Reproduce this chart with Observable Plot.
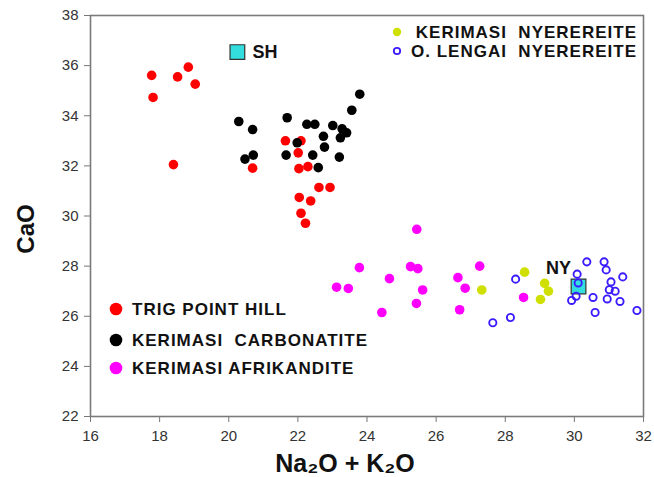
<!DOCTYPE html>
<html>
<head>
<meta charset="utf-8">
<script src="https://cdn.jsdelivr.net/npm/d3@7"></script>
<script src="https://cdn.jsdelivr.net/npm/@observablehq/plot@0.6"></script>
<style>
  body { margin: 0; background: #fff; }
  #chart svg { display: block; }
</style>
</head>
<body>
<div id="chart"></div>
<script>
// ---- Data ----
const trigX = [17.77,17.81,18.52,18.83,19.03,18.40,21.64,22.09,22.01,22.03,22.29,20.69,22.61,22.93,22.04,22.37,22.09,22.22];
const trigY = [35.61,34.73,35.55,35.94,35.26,32.05,33.00,33.00,32.52,31.89,31.97,31.91,31.14,31.14,30.74,30.60,30.11,29.71];

const carbX = [20.29,20.69,23.79,23.56,21.69,22.26,22.49,23.01,23.28,23.41,23.23,22.74,21.98,22.77,21.66,22.43,23.20,22.59,20.47,20.71];
const carbY = [33.77,33.45,34.86,34.22,33.92,33.66,33.66,33.61,33.48,33.32,33.12,33.18,32.92,32.75,32.43,32.43,32.35,31.93,32.27,32.43];

const afriX = [25.44,23.78,25.26,25.47,27.26,24.65,26.63,23.12,23.46,25.61,26.84,25.43,24.43,26.68,28.53];
const afriY = [29.47,27.94,27.98,27.90,28.00,27.50,27.54,27.16,27.11,27.05,27.12,26.51,26.15,26.26,26.75];

const kerNyX = [27.32,28.56,29.14,29.25,29.02];
const kerNyY = [27.05,27.76,27.31,27.00,26.67];

const lenX = [28.30,28.15,27.64,30.36,30.86,30.92,30.08,30.11,31.40,31.06,31.01,31.18,30.05,29.92,30.54,30.95,31.32,30.60,31.81];
const lenY = [27.48,25.95,25.74,28.17,28.17,27.85,27.68,27.33,27.57,27.37,27.06,27.00,26.80,26.63,26.75,26.69,26.59,26.15,26.23];

const refNames = ["SH", "NY"];
const refX = [20.25, 30.12];
const refY = [36.54, 27.19];

const xTicks = [16,18,20,22,24,26,28,30,32];
const yTicks = [22,24,26,28,30,32,34,36,38];

const xTitle = "Na\u2082O + K\u2082O";
const yTitle = "CaO";
const legendBottom = ["TRIG POINT HILL", "KERIMASI\u00a0 CARBONATITE", "KERIMASI AFRIKANDITE"];
const legendTop = ["KERIMASI\u00a0 NYEREREITE", "O. LENGAI\u00a0 NYEREREITE"];

// ---- Build tables ----
const zip = (xs, ys) => xs.map((x, i) => ({x, y: ys[i]}));
const trig = zip(trigX, trigY);
const carb = zip(carbX, carbY);
const afri = zip(afriX, afriY);
const kerNy = zip(kerNyX, kerNyY);
const len = zip(lenX, lenY);
const refs = refNames.map((n, i) => ({name: n, x: refX[i], y: refY[i]}));

const RED = "#ff0000", BLACK = "#000000", MAG = "#ff00ff", YEL = "#cfe000", BLUE = "#3a1cff", CYAN = "#33dddd";
const FONT = "Liberation Sans, Arial, Helvetica, sans-serif";

const plot = Plot.plot({
  width: 654,
  height: 477,
  marginLeft: 90,
  marginRight: 11,
  marginTop: 15,
  marginBottom: 61,
  style: {fontFamily: FONT, background: "#fff", color: "#333"},
  x: {domain: [16, 32]},
  y: {domain: [22, 38]},
  marks: [
    Plot.axisX({ticks: xTicks, tickSize: 6, tickPadding: 8, fontSize: 15, label: null, stroke: "#777"}),
    Plot.axisY({ticks: yTicks, tickSize: 6, tickPadding: 6, fontSize: 15, label: null, stroke: "#777"}),
    Plot.frame({stroke: "#7a7a7a", strokeWidth: 1.6}),
    Plot.dot(trig, {x: "x", y: "y", r: 4.8, fill: RED}),
    Plot.dot(carb, {x: "x", y: "y", r: 4.8, fill: BLACK}),
    Plot.dot(afri, {x: "x", y: "y", r: 4.8, fill: MAG}),
    Plot.dot(kerNy, {x: "x", y: "y", r: 4.8, fill: YEL}),
    Plot.dot(refs, {x: "x", y: "y", symbol: "square", r: 8.3, fill: CYAN, stroke: "#333", strokeWidth: 1.2}),
    Plot.dot(len, {x: "x", y: "y", r: 3.6, stroke: BLUE, strokeWidth: 1.9, fill: "none"}),
    Plot.text(refs.filter(d => d.name === "SH"), {x: "x", y: "y", text: "name", dx: 15, textAnchor: "start", fontSize: 18, fontWeight: "bold", fill: "#111"}),
    Plot.text(refs.filter(d => d.name === "NY"), {x: "x", y: "y", text: "name", dx: -20, dy: -18, fontSize: 18, fontWeight: "bold", fill: "#111"})
  ]
});

const svg = d3.select(plot);

// ---- Axis titles ----
const gTitles = svg.append("g").attr("font-family", FONT).attr("font-weight", "bold").attr("fill", "#111").attr("text-anchor", "middle");
gTitles.append("text").attr("x", 345).attr("y", 463).attr("dy", "0.35em").attr("font-size", 25).text(xTitle);
gTitles.append("text").attr("transform", "translate(26,229) rotate(-90)").attr("dy", "0.35em").attr("font-size", 24).text(yTitle);

// ---- Legends ----
const gb = svg.append("g").attr("font-family", FONT).attr("font-weight", "bold").attr("font-size", 17).attr("letter-spacing", 1).attr("fill", "#111").attr("text-anchor", "start");
const botColors = [RED, BLACK, MAG];
const botY = [309, 340, 368];
legendBottom.forEach((lab, i) => {
  gb.append("circle").attr("cx", 116).attr("cy", botY[i]).attr("r", 6.3).attr("fill", botColors[i]);
  gb.append("text").attr("x", 132).attr("y", botY[i]).attr("dy", "0.35em").attr("text-anchor", "start").text(lab);
});
const gt = svg.append("g").attr("font-family", FONT).attr("font-weight", "bold").attr("font-size", 17).attr("letter-spacing", 1).attr("fill", "#111");
const topY = [32, 51];
gt.append("circle").attr("cx", 397).attr("cy", topY[0]).attr("r", 4.2).attr("fill", YEL);
gt.append("circle").attr("cx", 397).attr("cy", topY[1]).attr("r", 3.2).attr("fill", "none").attr("stroke", BLUE).attr("stroke-width", 1.8);
legendTop.forEach((lab, i) => {
  gt.append("text").attr("x", 637).attr("y", topY[i]).attr("dy", "0.35em").attr("text-anchor", "end").text(lab);
});

document.getElementById("chart").appendChild(plot);
</script>
</body>
</html>
